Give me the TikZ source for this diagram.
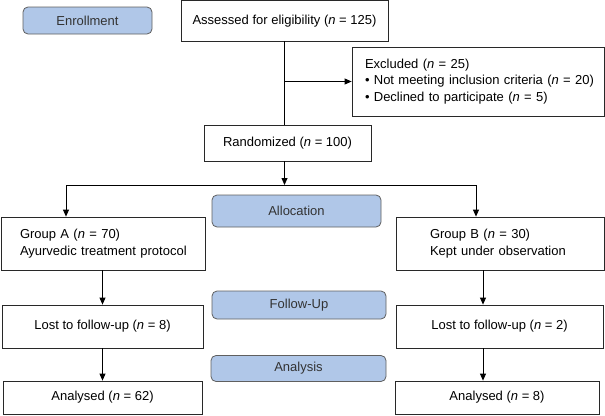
\documentclass[tikz,border=0pt]{standalone}
\usepackage{fontspec}
\setmainfont{Liberation Sans}
\usetikzlibrary{arrows.meta}
\definecolor{stagefill}{RGB}{176,199,232}
\definecolor{stagedraw}{RGB}{95,95,95}
\definecolor{boxdraw}{RGB}{40,40,40}
\tikzset{
  box/.style={draw=boxdraw, fill=white, inner sep=0pt, font=\fontsize{13}{16.5}\selectfont},
  lbox/.style={box, align=left, inner ysep=0pt},
  stage/.style={draw=stagedraw, fill=stagefill, rounded corners=5pt, inner sep=0pt,
    font=\fontsize{13}{16}\selectfont, text=black!80}
}
\begin{document}
\begin{tikzpicture}[x=1pt,y=-1pt,>={Triangle[length=7pt,width=6pt]},line width=0.8pt]
  \useasboundingbox (0,0) rectangle (605,415);

  % Stage labels
  \node[stage, minimum width=129, minimum height=27] (enroll) at (87.5,20.5) {Enrollment};
  \node[stage, minimum width=169, minimum height=32] (alloc) at (296.5,211) {Allocation};
  \node[stage, minimum width=174, minimum height=28] (follow) at (299,305) {Follow-Up};
  \node[stage, minimum width=175, minimum height=26] (analysis) at (298.5,368.5) {Analysis};

  % Enrollment
  \node[box, minimum width=207, minimum height=40.5] (assess) at (284.5,20.75)
    {Assessed for eligibility (\textit{n} = 125)};
  \node[lbox, inner xsep=13, text width=226, minimum height=69] (excl) at (478,81.5)
    {Excluded (\textit{n} = 25)\\
     \mbox{\textbullet\ Not meeting inclusion criteria (\textit{n} = 20)}\\
     \textbullet\ Declined to participate (\textit{n} = 5)};
  \node[box, minimum width=167, minimum height=36] (rand) at (287.5,143)
    {Randomized (\textit{n} = 100)};

  % Allocation
  \node[lbox, inner xsep=19, text width=166, minimum height=53] (grpA) at (103,243.5)
    {Group A (\textit{n} = 70)\\ \mbox{Ayurvedic treatment protocol}};
  \node[lbox, inner xsep=34, text width=140, minimum height=53] (grpB) at (500,243.5)
    {Group B (\textit{n} = 30)\\ \mbox{Kept under observation}};

  % Follow-up
  \node[box, minimum width=201, minimum height=43] (lostA) at (102.5,326.5)
    {Lost to follow-up (\textit{n} = 8)};
  \node[box, minimum width=207, minimum height=43] (lostB) at (499.5,326.5)
    {Lost to follow-up (\textit{n} = 2)};

  % Analysis
  \node[box, minimum width=199, minimum height=33] (anaA) at (102.5,397.5)
    {Analysed (\textit{n} = 62)};
  \node[box, minimum width=204, minimum height=33] (anaB) at (497,397.5)
    {Analysed (\textit{n} = 8)};

  % Connectors
  \coordinate (trunk) at (284.5,0);
  \coordinate (split) at (284.5,185);
  \coordinate (colA) at (66,0);
  \coordinate (colB) at (476,0);
  \coordinate (downA) at (102.5,0);
  \coordinate (downB) at (483,0);
  \draw (assess.south -| trunk) -- (rand.north -| trunk);
  \draw[->] (excl.west -| trunk) -- (excl.west);
  \draw[->] (rand.south -| trunk) -- (split);
  \draw (split -| colA) -- (split -| colB);
  \draw[->] (split -| colA) -- (grpA.north -| colA);
  \draw[->] (split -| colB) -- (grpB.north -| colB);
  \draw[->] (grpA.south -| downA) -- (lostA.north -| downA);
  \draw[->] (grpB.south -| downB) -- (lostB.north -| downB);
  \draw[->] (lostA.south -| downA) -- (anaA.north -| downA);
  \draw[->] (lostB.south -| downB) -- (anaB.north -| downB);
\end{tikzpicture}
\end{document}
